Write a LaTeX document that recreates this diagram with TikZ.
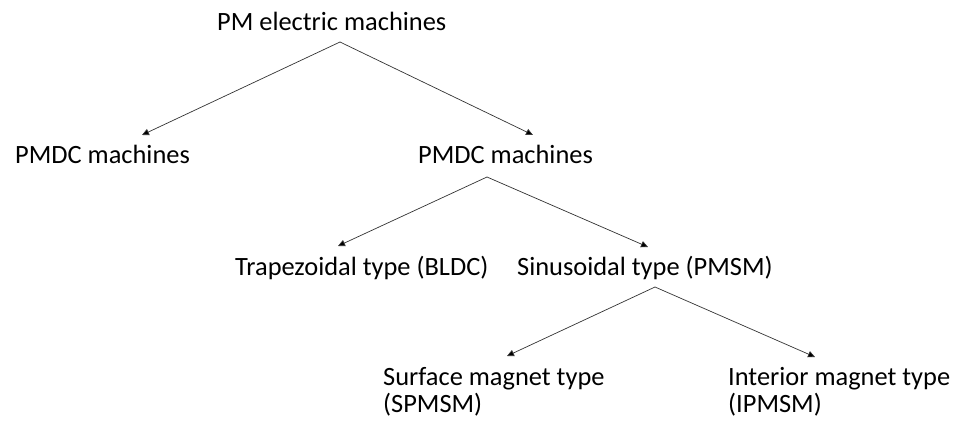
\documentclass[tikz,border=0pt]{standalone}
\usepackage{fontspec}
\setmainfont{Carlito}
\usetikzlibrary{arrows.meta}
\tikzset{
	txt/.style      = {anchor=base west, inner sep=0pt, align=left,
		font=\fontsize{26.4}{27}\selectfont},
	branch/.style   = {line width=0.7pt, draw=black!80,
		-{Triangle[length=7pt, width=6.5pt, fill=black]}},
}

\begin{document}
\begin{tikzpicture}[ x=1pt, y=-1pt,            %<--one unit is one pixel of the sketch
					>=Triangle ]               %<--sets the arrowtype

	\useasboundingbox (0,0) rectangle (956,423);

	\draw%-----------------------------------------------------------------------------------------
	%Drawing the Machine Classes:
	node(root)  at (217,30)  [txt] {PM electric machines}
	node(pmdcL) at (15,163)  [txt] {PMDC machines}
	node(pmdcR) at (418,163) [txt] {PMDC machines}
	node(trap)  at (235,275) [txt] {Trapezoidal type (BLDC)}
	node(sinus) at (517,275) [txt] {Sinusoidal type (PMSM)}
	%two-line classes sit on the baseline of their last line:
	node(spm)   at (383,412) [txt] {Surface magnet type\\(SPMSM)}
	node(ipm)   at (728,412) [txt] {Interior magnet type\\(IPMSM)}
	%Drawing the Fork Points:
	node[shape=coordinate][](forkRoot)  at (340,42){}
	node[shape=coordinate][](forkPmdc)  at (487,177){}
	node[shape=coordinate][](forkSinus) at (655,287){}
	%Drawing the Arrow Tips:
	node[shape=coordinate][](tipPmdcL) at (142,135){}
	node[shape=coordinate][](tipPmdcR) at (533,135){}
	node[shape=coordinate][](tipTrap)  at (338,246){}
	node[shape=coordinate][](tipSinus) at (648,247){}
	node[shape=coordinate][](tipSpm)   at (507,356){}
	node[shape=coordinate][](tipIpm)   at (815,357){}
	;%---------------------------------------------------------------------------------------------

	%Joining the Classes
	\draw[branch] (forkRoot) -- (tipPmdcL);
	\draw[branch] (forkRoot) -- (tipPmdcR);

	\draw[branch] (forkPmdc) -- (tipTrap);
	\draw[branch] (forkPmdc) -- (tipSinus);

	\draw[branch] (forkSinus) -- (tipSpm);
	\draw[branch] (forkSinus) -- (tipIpm);

\end{tikzpicture}
\end{document}
